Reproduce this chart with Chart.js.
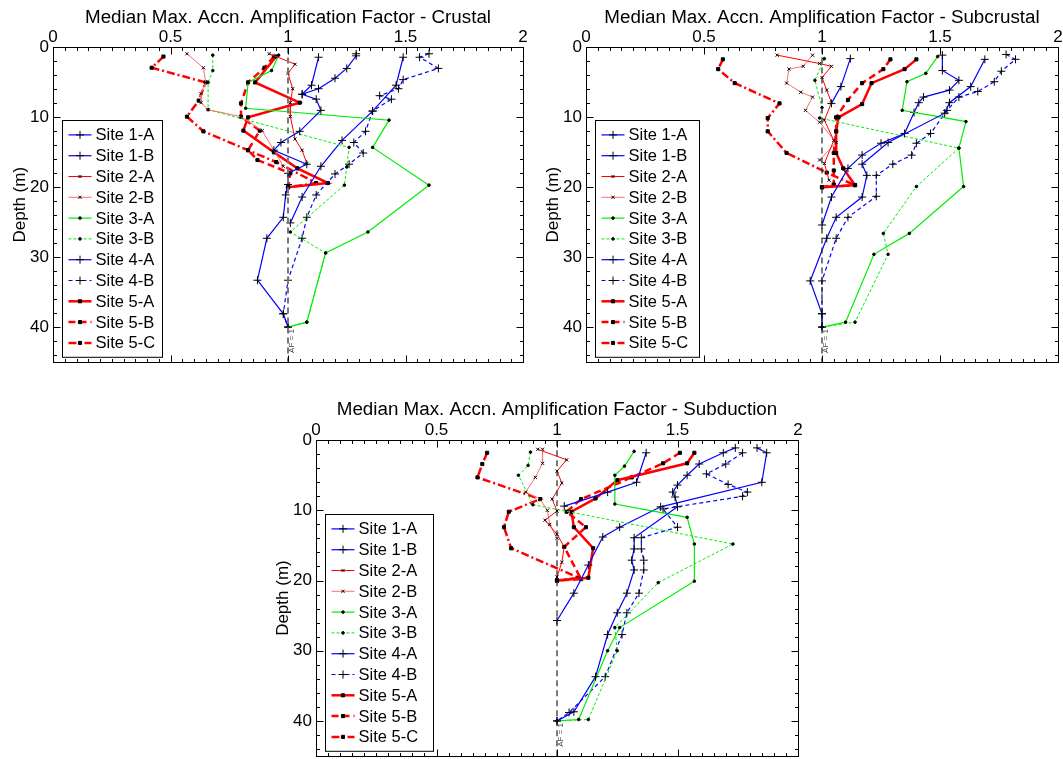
<!DOCTYPE html>
<html>
<head>
<meta charset="utf-8">
<script src="https://cdn.jsdelivr.net/npm/chart.js@4.4.0/dist/chart.umd.min.js"></script>
<style>
html, body { margin: 0; padding: 0; background: #fff; overflow: hidden; }
body { width: 1063px; height: 759px; position: relative; }
canvas { position: absolute; }
</style>
</head>
<body>
<canvas id="crustal" width="531" height="372" style="left:0px;top:0px"></canvas>
<canvas id="subcrustal" width="535" height="372" style="left:528px;top:0px"></canvas>
<canvas id="subduction" width="550" height="380" style="left:258px;top:385px"></canvas>
<script>
// site names, legend order
var siteNames = ["Site 1-A", "Site 1-B", "Site 2-A", "Site 2-B", "Site 3-A", "Site 3-B",
                 "Site 4-A", "Site 4-B", "Site 5-A", "Site 5-B", "Site 5-C"];

var xTicks = [0, 0.5, 1, 1.5, 2];
var depthTicks = [0, 10, 20, 30, 40];
var afLine = [[1, 0], [1, 45]];

// ---- Crustal: [amplification factor, depth (m)]
var crustal1A = [[1.29,0.9],[1.29,1.2],[1.25,3.0],[1.20,4.4],[1.13,5.9],[1.06,6.7],[1.12,7.4],[1.14,9.0],[1.05,12.0],[0.97,13.6],[0.94,14.7],[1.08,16.7],[1.00,18.0],[1.00,19.6],[0.99,21.1],[0.98,24.3],[0.91,27.3],[0.87,33.3],[0.98,38.1],[1.00,40]];
var crustal1B = [[1.13,1.4],[1.10,5.4],[1.06,6.7]];
var crustal2A = [[0.92,0.9],[1.03,2.4],[1.00,3.7],[1.02,5.9],[1.01,7.9],[1.01,9.9],[1.03,13.1],[1.06,14.7],[1.08,16.6]];
var crustal2B = [[0.57,0.9],[0.64,2.9],[0.65,5.0],[0.63,6.6],[0.63,7.9],[0.66,8.9],[0.80,9.9],[0.89,11.9],[0.94,14.7],[0.98,17.0]];
var crustal3A = [[0.96,1.1],[0.93,3.3],[0.83,5.0],[0.82,8.7],[1.43,10.4],[1.36,14.3],[1.60,19.7],[1.34,26.4],[1.16,29.4],[1.08,39.3],[1.00,40]];
var crustal3B = [[0.68,1.1],[0.68,3.3],[0.66,5.0],[0.66,8.9],[1.26,14.3],[1.25,17.1],[1.24,19.7],[1.01,26.4],[1.16,29.4],[1.08,39.3],[1.00,40]];
var crustal4A = [[1.49,1.4],[1.46,5.4],[1.36,9.1],[1.23,13.3],[1.14,17.0],[1.06,21.4],[1.01,25.1]];
var crustal4B = [[1.60,0.9],[1.56,1.4],[1.64,3.0],[1.49,4.6],[1.47,5.9],[1.39,6.9],[1.44,7.4],[1.36,9.1],[1.33,12.0],[1.28,13.6],[1.32,15.1],[1.26,16.7],[1.20,18.1],[1.12,21.1],[1.08,24.3],[1.06,27.3],[1.00,33.3],[0.98,38.1],[1.00,40]];
var crustal5A = [[0.95,1.3],[0.86,5.0],[1.05,7.9],[0.83,10.0],[0.81,11.9],[0.94,15.0],[1.04,17.3],[1.17,19.4],[1.00,20]];
var crustal5B = [[0.94,1.3],[0.90,2.9],[0.83,5.0],[0.80,8.0],[0.80,9.9],[0.88,11.9],[0.83,14.7],[0.87,16.1],[1.01,18.0],[1.00,20]];
var crustal5C = [[0.47,1.3],[0.42,2.9],[0.65,5.0],[0.62,7.6],[0.57,9.9],[0.64,12.0],[0.83,14.7],[0.95,16.4],[1.12,19.4],[1.00,20]];

// ---- Subcrustal
var subcrustal1A = [[1.69,1.7],[1.63,5.6],[1.54,7.9],[1.52,9.4],[1.28,13.6],[1.17,16.7],[1.19,18.3],[1.17,21.4],[1.06,24.3],[1.02,27.3],[0.95,33.4],[1.00,38.1],[1.00,40]];
var subcrustal1B = [[1.12,1.6],[1.08,5.6],[1.04,8.0]];
var subcrustal2A = [[0.81,1.1],[0.99,2.3],[1.04,2.7],[1.00,4.3],[1.02,6.1],[1.04,7.9],[1.01,10.4],[1.05,13.3],[1.01,16.6],[1.03,19.0]];
var subcrustal2B = [[0.96,1.1],[0.92,2.7],[0.86,3.1],[0.85,5.1],[0.91,6.4],[0.96,7.1],[0.93,9.0],[0.99,10.7],[1.06,13.6],[0.99,16.1]];
var subcrustal3A = [[1.49,1.3],[1.44,3.7],[1.36,4.9],[1.34,9.0],[1.61,10.6],[1.58,14.4],[1.60,19.9],[1.37,26.6],[1.22,29.6],[1.10,39.3],[1.00,40]];
var subcrustal3B = [[1.01,1.6],[0.97,4.7],[1.00,8.6],[0.99,10.1],[1.58,14.4],[1.40,19.9],[1.26,26.6],[1.28,29.6],[1.14,39.3],[1.00,40]];
var subcrustal4A = [[1.51,1.1],[1.51,3.3],[1.58,4.7],[1.54,6.1],[1.43,7.1],[1.41,7.9],[1.39,9.3],[1.35,12.3],[1.25,13.7],[1.17,15.4],[1.11,17.3],[1.04,21.4],[1.00,25.4]];
var subcrustal4B = [[1.78,1.0],[1.82,1.7],[1.76,3.4],[1.73,4.9],[1.66,6.3],[1.58,7.1],[1.53,9.0],[1.46,12.3],[1.40,13.7],[1.38,15.4],[1.30,16.7],[1.23,18.3],[1.23,21.3],[1.11,24.3],[1.06,27.3],[1.00,33.4],[1.00,38.1],[1.00,40]];
var subcrustal5A = [[1.40,1.7],[1.35,3.1],[1.21,5.1],[1.17,8.1],[1.07,10.0],[1.06,12.0],[1.06,15.1],[1.09,17.3],[1.14,19.7],[1.00,20]];
var subcrustal5B = [[1.29,1.7],[1.26,3.1],[1.17,5.1],[1.11,7.5],[1.06,10.0],[1.06,12.0],[1.05,15.1],[1.05,17.6],[1.05,19.6],[1.00,20]];
var subcrustal5C = [[0.58,1.7],[0.56,3.1],[0.63,5.1],[0.82,8.0],[0.77,10.1],[0.77,12.0],[0.85,15.1],[1.02,17.9],[1.14,19.7],[1.00,20]];

// ---- Subduction
var subduction1A = [[1.74,1.1],[1.69,1.8],[1.59,3.4],[1.54,5.0],[1.50,6.4],[1.48,7.4],[1.49,8.1],[1.50,9.5],[1.32,13.9],[1.32,15.5],[1.31,17.1],[1.32,18.5],[1.29,21.8],[1.25,24.6],[1.21,27.7],[1.16,33.7],[1.07,38.7],[1.00,40]];
var subduction1B = [[1.37,1.8],[1.33,6.0],[1.21,7.4],[1.03,9.4]];
var subduction2A = [[0.92,1.3],[1.04,2.8],[1.00,4.4],[1.02,6.1],[0.98,8.4],[1.00,10.1],[0.95,11.4],[1.00,13.4],[1.03,15.2],[1.02,17.4],[1.00,19.5]];
var subduction2B = [[0.94,1.3],[0.94,3.3],[0.91,5.3],[0.87,7.4],[0.93,8.4],[0.96,10.0],[0.97,12.0],[1.00,14.0]];
var subduction3A = [[1.32,1.6],[1.28,3.7],[1.24,5.0],[1.24,9.1],[1.54,11.0],[1.57,14.8],[1.57,20.1],[1.26,26.7],[1.21,30.0],[1.09,39.8],[1.00,40]];
var subduction3B = [[0.89,1.7],[0.88,3.6],[0.84,5.0],[0.90,9.2],[1.73,14.8],[1.42,20.3],[1.24,26.7],[1.25,30.0],[1.13,39.8],[1.00,40]];
var subduction4A = [[1.83,1.1],[1.87,1.8],[1.85,6.0],[1.43,9.5],[1.26,12.4],[1.19,13.8],[1.13,17.8],[1.07,21.8],[1.00,25.7]];
var subduction4B = [[1.77,1.8],[1.70,3.4],[1.62,4.8],[1.71,6.3],[1.79,7.4],[1.77,8.0],[1.44,9.8],[1.50,12.4],[1.35,13.9],[1.35,15.5],[1.36,17.1],[1.36,18.5],[1.34,21.8],[1.29,24.6],[1.27,27.7],[1.20,33.7],[1.05,38.8],[1.00,40]];
var subduction5A = [[1.57,1.8],[1.54,3.3],[1.25,5.7],[1.16,8.3],[1.06,10.2],[1.07,12.4],[1.15,15.4],[1.13,19.6],[1.00,20]];
var subduction5B = [[1.51,1.8],[1.44,3.3],[1.31,5.3],[1.10,8.4],[1.04,10.2],[1.12,12.4],[1.03,15.2],[1.10,19.8],[1.00,20]];
var subduction5C = [[0.71,1.8],[0.69,3.4],[0.67,5.3],[0.93,8.4],[0.80,10.2],[0.78,12.4],[0.81,15.4],[1.09,19.6],[1.00,20]];


// line / marker look of each site
var siteStyle = [
    { color: "#0000ff", width: 1.2, dash: [], point: "cross", r: 4 },
    { color: "#0000ff", width: 1.2, dash: [], point: "cross", r: 4 },
    { color: "#ff0000", width: 1, dash: [], point: "crossRot", r: 2.2 },
    { color: "#ff6e6e", width: 1, dash: [], point: "crossRot", r: 2.2 },
    { color: "#00ee00", width: 1.2, dash: [], point: "circle", r: 1.3 },
    { color: "#00ee00", width: 1, dash: [3, 2], point: "circle", r: 1.3 },
    { color: "#0000ff", width: 1.2, dash: [], point: "cross", r: 4 },
    { color: "#0000ff", width: 1.2, dash: [4, 3], point: "cross", r: 4 },
    { color: "#ff0000", width: 2.5, dash: [], point: "rect", r: 2.2 },
    { color: "#ff0000", width: 2.5, dash: [7, 4], point: "rect", r: 2.2 },
    { color: "#ff0000", width: 2.5, dash: [8, 3, 2, 3], point: "rect", r: 2.2 }
];

Chart.defaults.font.family = "'Liberation Sans', Arial, sans-serif";
Chart.defaults.color = "#000";


function toXY(pairs) {
    return pairs.map(function (p) { return { x: p[0], y: p[1] }; });
}


// frame, inward ticks, legend and the AF = 1 note
var framePlugin = {
    id: "frame",
    afterDatasetsDraw: function (chart) {
        var ctx = chart.ctx;
        var a = chart.chartArea;
        var xs = chart.scales.x;
        var ys = chart.scales.y;
        var opt = chart.options.plugins.frame;

        ctx.save();
        ctx.setLineDash([]);
        ctx.strokeStyle = "#000";
        ctx.lineWidth = 1;

        var L = Math.round(a.left) + 0.5, R = Math.round(a.right) + 0.5;
        var T = Math.round(a.top) + 0.5, B = Math.round(a.bottom) + 0.5;
        ctx.strokeRect(L, T, R - L, B - T);

        ctx.beginPath();
        for (var i = 0; i <= 40; i++) {
            var px = Math.round(xs.getPixelForValue(i * 0.05)) + 0.5;
            var len = (i % 10 == 0) ? 7 : 3.5;
            ctx.moveTo(px, T); ctx.lineTo(px, T + len);
            ctx.moveTo(px, B); ctx.lineTo(px, B - len);
        }
        for (var d = 0; d <= 44; d += 2) {
            var py = Math.round(ys.getPixelForValue(d)) + 0.5;
            var len2 = (d % 10 == 0) ? 7 : 3.5;
            ctx.moveTo(L, py); ctx.lineTo(L + len2, py);
            ctx.moveTo(R, py); ctx.lineTo(R - len2, py);
        }
        ctx.stroke();

        // AF = 1 note next to the reference line
        ctx.save();
        ctx.translate(xs.getPixelForValue(1) + 4, ys.getPixelForValue(42));
        ctx.rotate(-Math.PI / 2);
        ctx.fillStyle = "#444";
        ctx.font = "8px 'Liberation Sans', Arial, sans-serif";
        ctx.textAlign = "center";
        ctx.textBaseline = "middle";
        ctx.fillText("AF = 1", 0, 0);
        ctx.restore();

        // legend box
        var rowH = 20.8;
        var w = opt.legendW;
        var h = siteNames.length * rowH + 8;
        var x0 = Math.round(a.left + 9) + 0.5;
        var y0 = Math.round(a.bottom - 5 - h) + 0.5;
        ctx.fillStyle = "#fff";
        ctx.fillRect(x0, y0, w, h);
        ctx.strokeStyle = "#000";
        ctx.lineWidth = 1;
        ctx.strokeRect(x0, y0, w, h);

        ctx.font = "16.5px 'Liberation Sans', Arial, sans-serif";
        ctx.textBaseline = "middle";
        ctx.textAlign = "left";
        for (var k = 0; k < siteNames.length; k++) {
            var st = siteStyle[k];
            var cy = y0 + 4 + rowH * (k + 0.5);
            ctx.strokeStyle = st.color;
            ctx.lineWidth = st.width;
            ctx.setLineDash(st.dash);
            ctx.beginPath();
            ctx.moveTo(x0 + 6, cy);
            ctx.lineTo(x0 + 29, cy);
            ctx.stroke();
            ctx.setLineDash([]);
            ctx.strokeStyle = "#000";
            ctx.fillStyle = "#000";
            ctx.lineWidth = 1;
            Chart.helpers.drawPoint(ctx, { pointStyle: st.point, radius: st.r, borderWidth: 1, rotation: 0 }, x0 + 17.5, cy);
            ctx.fillStyle = "#000";
            ctx.fillText(siteNames[k], x0 + 33, cy + 1);
        }
        ctx.restore();
    }
};


function noPadding(s) {
    s.paddingLeft = 0;
    s.paddingRight = 0;
    s.paddingTop = 0;
    s.paddingBottom = 0;
}


function makeChart(id, titleText, series, o) {
    var datasets = [];
    datasets.push({
        data: toXY(afLine),
        showLine: true,
        borderColor: o.afColor,
        borderWidth: o.afWidth,
        borderDash: [6, 4],
        pointRadius: 0
    });
    for (var i = 0; i < series.length; i++) {
        var st = siteStyle[i];
        datasets.push({
            label: siteNames[i],
            data: toXY(series[i]),
            showLine: true,
            borderColor: st.color,
            borderWidth: st.width,
            borderDash: st.dash,
            pointStyle: st.point,
            pointRadius: st.r,
            pointBorderColor: "#000",
            pointBackgroundColor: "#000",
            pointBorderWidth: 1
        });
    }

    return new Chart(document.getElementById(id), {
        type: "scatter",
        data: { datasets: datasets },
        options: {
            responsive: false,
            animation: false,
            events: [],
            layout: { padding: { left: 0, top: 0, right: o.padRight, bottom: o.padBottom } },
            plugins: {
                legend: { display: false },
                tooltip: { enabled: false },
                title: {
                    display: true,
                    text: titleText,
                    fullSize: false,
                    color: "#000",
                    font: { size: 18.8, weight: "normal" },
                    padding: { top: o.titleTop, bottom: 0 }
                },
                frame: { legendW: o.legendW }
            },
            scales: {
                x: {
                    type: "linear",
                    position: "top",
                    min: 0,
                    max: 2,
                    afterBuildTicks: function (s) {
                        s.ticks = xTicks.map(function (v) { return { value: v }; });
                    },
                    ticks: {
                        color: "#000", font: { size: 17 }, padding: 0, autoSkip: false, maxRotation: 0,
                        callback: function (v) { return String(v); }
                    },
                    grid: { display: false, drawTicks: false },
                    border: { display: false },
                    afterFit: function (s) { s.height = o.xAxisH; noPadding(s); }
                },
                y: {
                    type: "linear",
                    reverse: true,
                    min: 0,
                    max: 45,
                    afterBuildTicks: function (s) {
                        s.ticks = depthTicks.map(function (v) { return { value: v }; });
                    },
                    ticks: {
                        color: "#000", font: { size: 17 }, padding: 4,
                        callback: function (v) { return String(v); }
                    },
                    grid: { display: false, drawTicks: false },
                    border: { display: false },
                    title: {
                        display: true,
                        text: "Depth (m)",
                        color: "#000",
                        font: { size: 17 },
                        padding: { top: o.yTitlePad, bottom: 0 }
                    },
                    afterFit: function (s) { s.width = o.yAxisW; noPadding(s); }
                }
            }
        },
        plugins: [framePlugin]
    });
}


makeChart("crustal", "Median Max. Accn. Amplification Factor - Crustal",
    [crustal1A, crustal1B, crustal2A, crustal2B, crustal3A, crustal3B,
     crustal4A, crustal4B, crustal5A, crustal5B, crustal5C],
    { yAxisW: 53, padRight: 8, padBottom: 10, titleTop: 6.3, xAxisH: 18.6, yTitlePad: 10,
      legendW: 100, afColor: "#777", afWidth: 2 });

makeChart("subcrustal", "Median Max. Accn. Amplification Factor - Subcrustal",
    [subcrustal1A, subcrustal1B, subcrustal2A, subcrustal2B, subcrustal3A, subcrustal3B,
     subcrustal4A, subcrustal4B, subcrustal5A, subcrustal5B, subcrustal5C],
    { yAxisW: 58, padRight: 3, padBottom: 10, titleTop: 6.3, xAxisH: 18.6, yTitlePad: 15,
      legendW: 104, afColor: "#222", afWidth: 1.2 });

makeChart("subduction", "Median Max. Accn. Amplification Factor - Subduction",
    [subduction1A, subduction1B, subduction2A, subduction2B, subduction3A, subduction3B,
     subduction4A, subduction4B, subduction5A, subduction5B, subduction5C],
    { yAxisW: 58, padRight: 10, padBottom: 9, titleTop: 14, xAxisH: 18.6, yTitlePad: 15,
      legendW: 108, afColor: "#222", afWidth: 1.2 });
</script>
</body>
</html>
